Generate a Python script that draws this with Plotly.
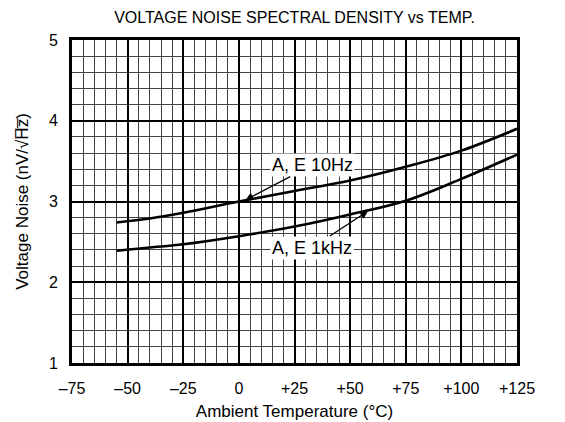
import plotly.graph_objects as go

# Data
temp_10hz = [-55, -40, -25, 0, 25, 50, 75, 100, 125]
noise_10hz = [2.74, 2.79, 2.86, 3.0, 3.13, 3.26, 3.43, 3.63, 3.90]
temp_1khz = [-55, -40, -25, 0, 25, 50, 75, 100, 125]
noise_1khz = [2.39, 2.43, 2.47, 2.57, 2.69, 2.84, 3.01, 3.28, 3.58]

x_tickvals = [-75, -50, -25, 0, 25, 50, 75, 100, 125]
x_ticktext = ["\u201375", "\u201350", "\u201325", "0", "+25", "+50", "+75", "+100", "+125"]
y_tickvals = [1, 2, 3, 4, 5]
y_ticktext = ["1", "2", "3", "4", "5"]

FONT = "Liberation Sans, Arial, Helvetica, sans-serif"

fig = go.Figure()
for xs, ys in [(temp_10hz, noise_10hz), (temp_1khz, noise_1khz)]:
    fig.add_trace(go.Scatter(x=xs, y=ys, mode="lines",
                             line=dict(color="black", width=2.6, shape="spline", smoothing=1.0),
                             showlegend=False, hoverinfo="skip"))

fig.add_annotation(x=3, y=3.02, ax=33, ay=3.45, axref="x", ayref="y",
                   text="A, E 10Hz", showarrow=True, arrowhead=2, arrowsize=1.2,
                   arrowwidth=1.3, arrowcolor="black", bgcolor="white",
                   font=dict(family=FONT, size=18, color="black"))
fig.add_annotation(x=58, y=2.88, ax=33, ay=2.43, axref="x", ayref="y",
                   text="A, E 1kHz", showarrow=True, arrowhead=2, arrowsize=1.2,
                   arrowwidth=1.3, arrowcolor="black", bgcolor="white",
                   font=dict(family=FONT, size=18, color="black"))

fig.update_layout(
    width=565, height=422,
    margin=dict(l=64, r=56, t=32, b=64),
    paper_bgcolor="white", plot_bgcolor="white",
    font=dict(family=FONT, size=16, color="black"),
    title=dict(text="VOLTAGE NOISE SPECTRAL DENSITY vs TEMP.", x=0.5, xref="paper",
               y=1 - 4 / 422, yanchor="top", font=dict(size=16)),
)
fig.update_xaxes(
    range=[-75, 125], tickvals=x_tickvals, ticktext=x_ticktext,
    showgrid=True, gridcolor="black", gridwidth=2,
    minor=dict(dtick=5, tick0=-75, showgrid=True, gridcolor="#444", gridwidth=1),
    showline=True, mirror=True, linecolor="black", linewidth=3,
    ticks="", ticklabelstandoff=9, zeroline=False,
    title=dict(text="Ambient Temperature (\u00b0C)", standoff=9, font=dict(size=17)),
)
fig.update_yaxes(
    range=[1, 5], tickvals=y_tickvals, ticktext=y_ticktext,
    showgrid=True, gridcolor="black", gridwidth=2,
    minor=dict(dtick=0.2, tick0=1, showgrid=True, gridcolor="#444", gridwidth=1),
    showline=True, mirror=True, linecolor="black", linewidth=3,
    ticks="", ticklabelstandoff=8, zeroline=False,
    title=dict(text="Voltage Noise (nV/\u221aH\u0305z\u0305)", standoff=16, font=dict(size=17)),
)

fig.write_html("out.html")
